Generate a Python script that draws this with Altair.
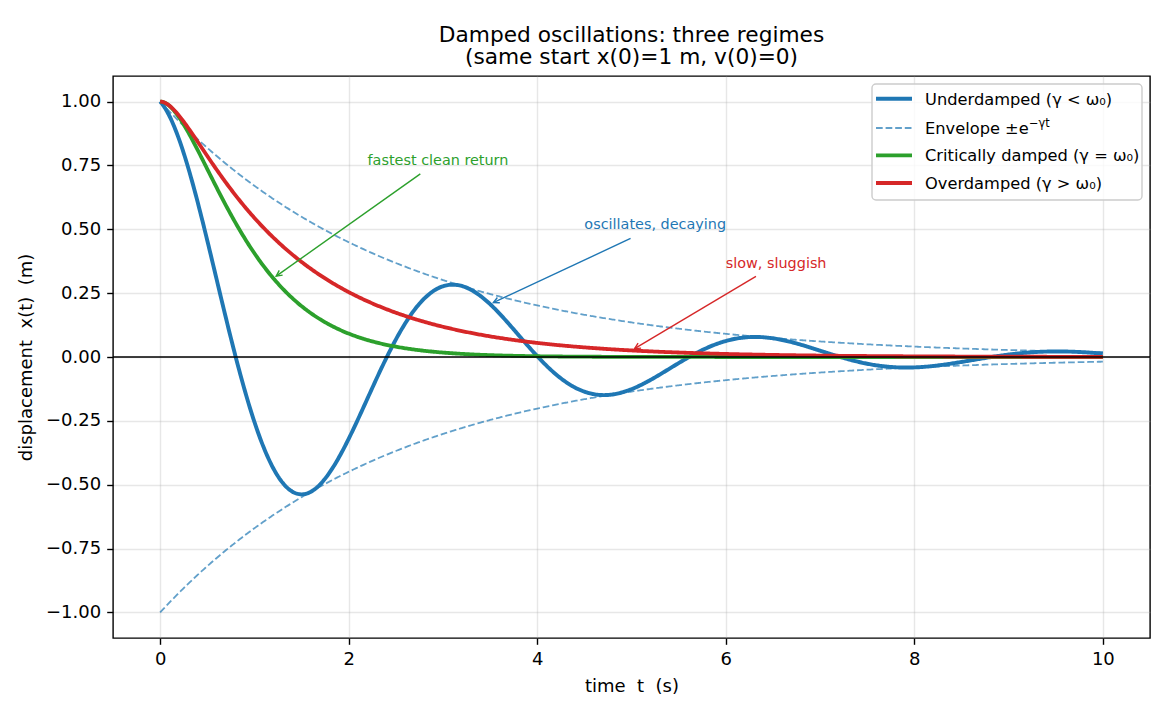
import numpy as np
import pandas as pd
import altair as alt

# ---- oscillator parameters (rad/s, 1/s) ----
omega0 = 2.0
gamma_under = 0.4
gamma_crit = 2.0
gamma_over = 3.0
t_end = 10.0
n_samples = 801

# ---- tick values ----
x_ticks = [0, 2, 4, 6, 8, 10]
y_ticks = [-1.0, -0.75, -0.5, -0.25, 0.0, 0.25, 0.5, 0.75, 1.0]

# ---- axis titles (no-break spaces keep the wide gaps in SVG) ----
x_title = "time\u00a0 t\u00a0 (s)"
y_title = "displacement\u00a0 x(t)\u00a0 (m)"

# ---- legend labels ----
legend_labels = [
    "Underdamped (γ < ω₀)",
    "Envelope ±e",
    "Critically damped (γ = ω₀)",
    "Overdamped (γ > ω₀)",
]
envelope_exponent = "−γt"

# ---- annotations ----
ann_text = ["fastest clean return", "oscillates, decaying", "slow, sluggish"]
ann_text_t = [2.2, 4.5, 6.0]
ann_text_x = [0.75, 0.50, 0.35]
ann_target_t = [1.2, 3.5, 5.0]
ann_tail_t = [2.76, 4.99, 6.32]
ann_tail_x = [0.717, 0.464, 0.316]
ann_curve = ["crit", "under", "over"]

BLUE, GREEN, RED = "#1f77b4", "#2ca02c", "#d62728"
FONT = "DejaVu Sans"

# ---- solutions of x'' + 2*gamma*x' + omega0^2 x = 0 ----
omega_d = np.sqrt(omega0**2 - gamma_under**2)
s_over = np.sqrt(gamma_over**2 - omega0**2)
r1, r2 = -gamma_over + s_over, -gamma_over - s_over


def x_under(t):
    return np.exp(-gamma_under * t) * np.cos(omega_d * t)


def x_crit(t):
    return (1 + gamma_crit * t) * np.exp(-gamma_crit * t)


def x_over(t):
    return (r2 * np.exp(r1 * t) - r1 * np.exp(r2 * t)) / (r2 - r1)


curves = {"under": x_under, "crit": x_crit, "over": x_over}

t = np.linspace(0, t_end, n_samples)
env = np.exp(-gamma_under * t)
df_under = pd.DataFrame({"t": t, "x": x_under(t)})
df_crit = pd.DataFrame({"t": t, "x": x_crit(t)})
df_over = pd.DataFrame({"t": t, "x": x_over(t)})
df_env = pd.concat([
    pd.DataFrame({"t": t, "x": env, "branch": "upper"}),
    pd.DataFrame({"t": t, "x": -env, "branch": "lower"}),
])

# ---- plot geometry ----
W, H = 1037, 562
x_dom = [-0.5, 10.5]
y_dom = [-1.1, 1.1]
kx = W / (x_dom[1] - x_dom[0])
ky = H / (y_dom[1] - y_dom[0])

xs = alt.Scale(domain=x_dom, nice=False, zero=False)
ys = alt.Scale(domain=y_dom, nice=False, zero=False)

x_axis = alt.Axis(
    values=x_ticks, format="d", title=x_title,
    labelFontSize=18, titleFontSize=18, titleFontWeight="normal",
    labelColor="black", titleColor="black", labelFont=FONT, titleFont=FONT,
    tickSize=6.3, tickWidth=1.4, tickColor="black", labelPadding=6,
    titlePadding=9, domain=False,
    grid=True, gridColor="#b0b0b0", gridOpacity=0.3, gridWidth=1.4,
)
y_axis = alt.Axis(
    values=y_ticks, title=y_title,
    labelExpr="replace(format(datum.value, '.2f'), '-', '−')",
    labelFontSize=18, titleFontSize=18, titleFontWeight="normal",
    labelColor="black", titleColor="black", labelFont=FONT, titleFont=FONT,
    tickSize=6.3, tickWidth=1.4, tickColor="black", labelPadding=6,
    titlePadding=10, domain=False,
    grid=True, gridColor="#b0b0b0", gridOpacity=0.3, gridWidth=1.4,
)

X = alt.X("t:Q", scale=xs, axis=x_axis)
Y = alt.Y("x:Q", scale=ys, axis=y_axis)


def curve(df, color, width=3.8, **kw):
    return alt.Chart(df).mark_line(color=color, strokeWidth=width, **kw).encode(
        x=X, y=Y, order="t:Q")


under = curve(df_under, BLUE, 3.9)
envelope = alt.Chart(df_env).mark_line(
    color=BLUE, strokeWidth=1.8, opacity=0.7, strokeDash=[6.7, 2.9]
).encode(x=X, y=Y, detail="branch:N", order="t:Q")
crit = curve(df_crit, GREEN)
over = curve(df_over, RED)

zero_line = alt.Chart(pd.DataFrame({"x": [0.0]})).mark_rule(
    color="black", strokeWidth=1.4
).encode(y=Y, x=alt.value(0), x2=alt.value(W))

# ---- annotation arrows ----
rows = []
colors = {"crit": GREEN, "under": BLUE, "over": RED}
shrink = 3.6
for txt, tt, tx, gt, ct, cx, cname in zip(ann_text, ann_text_t, ann_text_x,
                                            ann_target_t, ann_tail_t, ann_tail_x,
                                            ann_curve):
    gx = float(curves[cname](gt))
    dxp = (gt - ct) * kx
    dyp = -(gx - cx) * ky
    L = np.hypot(dxp, dyp)
    tip_t = gt - dxp / L * shrink / kx
    tip_x = gx + dyp / L * shrink / ky
    ang = float(np.degrees(np.arctan2(dyp, dxp))) % 360
    rows.append(dict(label=txt, lt=tt, lx=tx, t=ct, x=cx, t2=tip_t, x2=tip_x,
                     angle=ang, color=colors[cname]))
df_ann = pd.DataFrame(rows)

ann_labels = alt.Chart(df_ann).mark_text(
    align="left", baseline="alphabetic", fontSize=14.4, font=FONT
).encode(
    x=alt.X("lt:Q", scale=xs), y=alt.Y("lx:Q", scale=ys),
    text="label:N", color=alt.Color("color:N", scale=None),
)
ann_shafts = alt.Chart(df_ann).mark_rule(strokeWidth=1.4).encode(
    x=alt.X("t:Q", scale=xs), y=alt.Y("x:Q", scale=ys),
    x2="t2:Q", y2="x2:Q", color=alt.Color("color:N", scale=None),
)
ann_heads = alt.Chart(df_ann).mark_point(
    shape="M -1 -0.5 L 0 0 L -1 0.5", filled=False, size=135,
    strokeWidth=1.4, opacity=1,
).encode(
    x=alt.X("t2:Q", scale=xs), y=alt.Y("x2:Q", scale=ys),
    angle=alt.Angle("angle:Q", scale=None),
    color=alt.Color("color:N", scale=None),
)

# ---- legend box ----
one = pd.DataFrame({"k": [0]})
leg_x0, leg_x1, leg_y0, leg_y1 = 759, 1029, 8, 124
row_y = [22.7, 52.0, 79.3, 107.0]
sample_x0, sample_x1, text_x = 763, 799, 812

legend_layers = [
    alt.Chart(one).mark_rect(
        fill="white", fillOpacity=0.8, stroke="#cccccc", strokeWidth=1.4,
        cornerRadius=4,
    ).encode(x=alt.value(leg_x0), x2=alt.value(leg_x1),
             y=alt.value(leg_y0), y2=alt.value(leg_y1))
]
sample_styles = [
    dict(color=BLUE, strokeWidth=3.9),
    dict(color=BLUE, strokeWidth=1.8, opacity=0.7, strokeDash=[6.7, 2.9]),
    dict(color=GREEN, strokeWidth=3.8),
    dict(color=RED, strokeWidth=3.8),
]
for lab, ry, sty in zip(legend_labels, row_y, sample_styles):
    legend_layers.append(
        alt.Chart(one).mark_rule(**sty).encode(
            x=alt.value(sample_x0), x2=alt.value(sample_x1), y=alt.value(ry))
    )
    legend_layers.append(
        alt.Chart(pd.DataFrame({"label": [lab]})).mark_text(
            align="left", baseline="alphabetic", fontSize=16.25, font=FONT,
            color="black",
        ).encode(x=alt.value(text_x), y=alt.value(ry + 6), text="label:N")
    )
legend_layers.append(
    alt.Chart(pd.DataFrame({"label": [envelope_exponent]})).mark_text(
        align="left", baseline="alphabetic", fontSize=11.4, font=FONT,
        color="black",
    ).encode(x=alt.value(text_x + 104), y=alt.value(row_y[1] - 1),
             text="label:N")
)

chart = alt.layer(
    under, envelope, crit, over, zero_line,
    ann_shafts, ann_heads, ann_labels,
    *legend_layers,
).properties(
    width=W, height=H,
    title=alt.TitleParams(
        text=["Damped oscillations: three regimes",
              "(same start x(0)=1 m, v(0)=0)"],
        fontSize=21.7, font=FONT, fontWeight="normal", color="black",
        anchor="middle", frame="group", offset=7, lineHeight=22.5,
    ),
    autosize=alt.AutoSizeParams(type="none"),
    padding={"left": 113, "top": 76, "right": 20, "bottom": 77},
).configure(
    font=FONT, background="white",
).configure_view(
    stroke="black", strokeWidth=1.4,
)

chart.save("out.html", embed_options={"renderer": "svg", "actions": False})
